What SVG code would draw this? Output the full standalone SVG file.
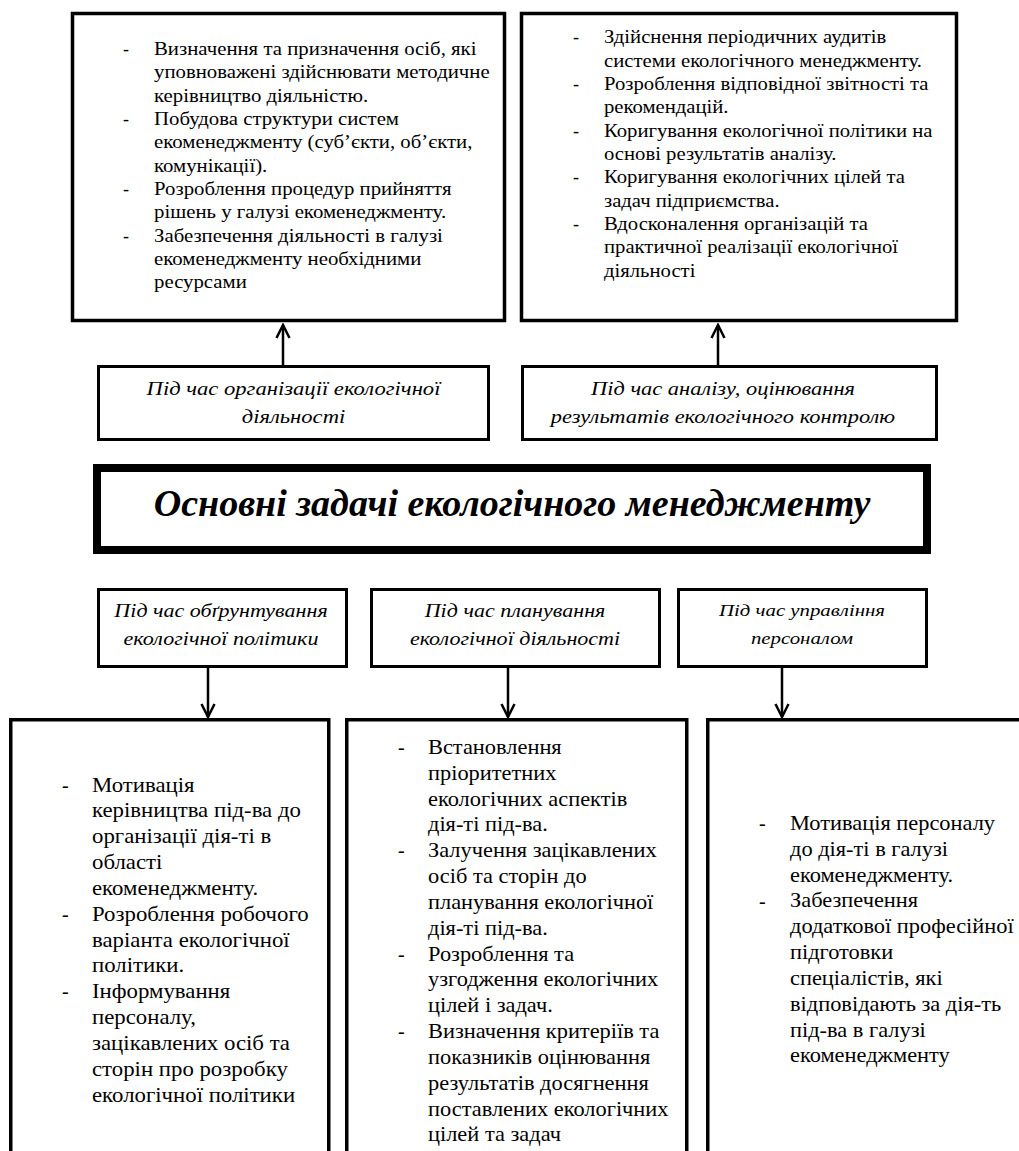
<svg xmlns="http://www.w3.org/2000/svg" width="1019" height="1151" viewBox="0 0 1019 1151">
<style>
.box{fill:#fff;stroke:#000;stroke-width:3.5}
.lbl{fill:#fff;stroke:#000;stroke-width:3}
.title{fill:#fff;stroke:#000;stroke-width:8}
.t{font-family:"Liberation Serif","Times New Roman",serif;font-size:18px;fill:#000}
.b{font-family:"Liberation Serif","Times New Roman",serif;font-size:20px;fill:#000}
.it{font-family:"Liberation Serif","Times New Roman",serif;font-style:italic;font-size:19px;fill:#000;text-anchor:middle}
.h{font-family:"Liberation Serif","Times New Roman",serif;font-style:italic;font-weight:bold;font-size:38px;fill:#000;text-anchor:middle}
.c{stroke:#000;stroke-width:2.5;fill:none}
</style>
<defs>
<marker id="ah" markerUnits="userSpaceOnUse" markerWidth="16" markerHeight="16" viewBox="0 0 16 16" refX="14" refY="8" orient="auto">
<path d="M1,1.5 L14,8 L1,14.5" fill="none" stroke="#000" stroke-width="2.5"/>
</marker>
</defs>

<g id="connectors">
<line class="c" x1="283" y1="365" x2="283" y2="325" marker-end="url(#ah)"/>
<line class="c" x1="718" y1="365" x2="718" y2="325" marker-end="url(#ah)"/>
<line class="c" x1="208" y1="668" x2="208" y2="717" marker-end="url(#ah)"/>
<line class="c" x1="508" y1="668" x2="508" y2="717" marker-end="url(#ah)"/>
<line class="c" x1="782" y1="668" x2="782" y2="717" marker-end="url(#ah)"/>
</g>

<g id="top-left">
<rect class="box" x="72.5" y="13.5" width="432" height="307"/>
<text class="t"><tspan x="123" y="55">-</tspan><tspan x="123" y="125">-</tspan><tspan x="123" y="195">-</tspan><tspan x="123" y="241.7">-</tspan></text>
<text class="t" transform="matrix(1.155 0 0 1 154 0)">
<tspan x="0" y="55">Визначення та призначення осіб, які</tspan>
<tspan x="0" y="78.3">уповноважені здійснювати методичне</tspan>
<tspan x="0" y="101.7">керівництво діяльністю.</tspan>
<tspan x="0" y="125">Побудова структури систем</tspan>
<tspan x="0" y="148.3">екоменеджменту (суб’єкти, об’єкти,</tspan>
<tspan x="0" y="171.7">комунікації).</tspan>
<tspan x="0" y="195">Розроблення процедур прийняття</tspan>
<tspan x="0" y="218.3">рішень у галузі екоменеджменту.</tspan>
<tspan x="0" y="241.7">Забезпечення діяльності в галузі</tspan>
<tspan x="0" y="265">екоменеджменту необхідними</tspan>
<tspan x="0" y="288.3">ресурсами</tspan>
</text>
</g>

<g id="top-right">
<rect class="box" x="521.5" y="13.5" width="435" height="307"/>
<text class="t"><tspan x="573" y="43.3">-</tspan><tspan x="573" y="90">-</tspan><tspan x="573" y="136.7">-</tspan><tspan x="573" y="183.3">-</tspan><tspan x="573" y="230">-</tspan></text>
<text class="t" transform="matrix(1.15 0 0 1 604 0)">
<tspan x="0" y="43.3">Здійснення періодичних аудитів</tspan>
<tspan x="0" y="66.7">системи екологічного менеджменту.</tspan>
<tspan x="0" y="90">Розроблення відповідної звітності та</tspan>
<tspan x="0" y="113.3">рекомендацій.</tspan>
<tspan x="0" y="136.7">Коригування екологічної політики на</tspan>
<tspan x="0" y="160">основі результатів аналізу.</tspan>
<tspan x="0" y="183.3">Коригування екологічних цілей та</tspan>
<tspan x="0" y="206.7">задач підприємства.</tspan>
<tspan x="0" y="230">Вдосконалення організацій та</tspan>
<tspan x="0" y="253.3">практичної реалізації екологічної</tspan>
<tspan x="0" y="276.7">діяльності</tspan>
</text>
</g>

<g id="label-organization">
<rect class="lbl" x="98.5" y="366.5" width="390" height="73"/>
<text class="it" transform="matrix(1.19 0 0 1 293.5 0)"><tspan x="0" y="395">Під час організації екологічної</tspan><tspan x="0" y="423">діяльності</tspan></text>
</g>

<g id="label-analysis">
<rect class="lbl" x="522.5" y="366.5" width="414" height="73"/>
<text class="it" transform="matrix(1.18 0 0 1 723 0)"><tspan x="0" y="395">Під час аналізу, оцінювання</tspan><tspan x="0" y="423">результатів екологічного контролю</tspan></text>
</g>

<g id="title">
<rect class="title" x="97" y="468" width="830" height="82"/>
<text class="h" x="512" y="516">Основні задачі екологічного менеджменту</text>
</g>

<g id="label-policy">
<rect class="lbl" x="98.5" y="589.5" width="248" height="77"/>
<text class="it" transform="matrix(1.16 0 0 1 221 0)"><tspan x="0" y="617">Під час обґрунтування</tspan><tspan x="0" y="645">екологічної політики</tspan></text>
</g>

<g id="label-planning">
<rect class="lbl" x="371.5" y="589.5" width="288" height="77"/>
<text class="it" transform="matrix(1.16 0 0 1 515 0)"><tspan x="0" y="617">Під час планування</tspan><tspan x="0" y="645">екологічної діяльності</tspan></text>
</g>

<g id="label-personnel">
<rect class="lbl" x="678.5" y="589.5" width="248" height="77"/>
<text class="it" style="font-size:17.5px" transform="matrix(1.19 0 0 1 802 0)"><tspan x="0" y="616">Під час управління</tspan><tspan x="0" y="644">персоналом</tspan></text>
</g>

<g id="box-policy">
<rect class="box" x="10.75" y="719.75" width="318" height="450"/>
<text class="b"><tspan x="62" y="791.7">-</tspan><tspan x="62" y="920.8">-</tspan><tspan x="62" y="998.3">-</tspan></text>
<text class="b" transform="matrix(1.14 0 0 1 92 0)">
<tspan x="0" y="791.7">Мотивація</tspan>
<tspan x="0" y="817.5">керівництва під-ва до</tspan>
<tspan x="0" y="843.3">організації дія-ті в</tspan>
<tspan x="0" y="869.2">області</tspan>
<tspan x="0" y="895">екоменеджменту.</tspan>
<tspan x="0" y="920.8">Розроблення робочого</tspan>
<tspan x="0" y="946.7">варіанта екологічної</tspan>
<tspan x="0" y="972.5">політики.</tspan>
<tspan x="0" y="998.3">Інформування</tspan>
<tspan x="0" y="1024.2">персоналу,</tspan>
<tspan x="0" y="1050">зацікавлених осіб та</tspan>
<tspan x="0" y="1075.8">сторін про розробку</tspan>
<tspan x="0" y="1101.7">екологічної політики</tspan>
</text>
</g>

<g id="box-planning">
<rect class="box" x="346.75" y="719.75" width="340" height="450"/>
<text class="b"><tspan x="398" y="754">-</tspan><tspan x="398" y="857.3">-</tspan><tspan x="398" y="960.7">-</tspan><tspan x="398" y="1038.2">-</tspan></text>
<text class="b" transform="matrix(1.12 0 0 1 428 0)">
<tspan x="0" y="754">Встановлення</tspan>
<tspan x="0" y="779.8">пріоритетних</tspan>
<tspan x="0" y="805.7">екологічних аспектів</tspan>
<tspan x="0" y="831.5">дія-ті під-ва.</tspan>
<tspan x="0" y="857.3">Залучення зацікавлених</tspan>
<tspan x="0" y="883.2">осіб та сторін до</tspan>
<tspan x="0" y="909">планування екологічної</tspan>
<tspan x="0" y="934.8">дія-ті під-ва.</tspan>
<tspan x="0" y="960.7">Розроблення та</tspan>
<tspan x="0" y="986.5">узгодження екологічних</tspan>
<tspan x="0" y="1012.3">цілей і задач.</tspan>
<tspan x="0" y="1038.2">Визначення критеріїв та</tspan>
<tspan x="0" y="1064">показників оцінювання</tspan>
<tspan x="0" y="1089.8">результатів досягнення</tspan>
<tspan x="0" y="1115.7">поставлених екологічних</tspan>
<tspan x="0" y="1141.5">цілей та задач</tspan>
</text>
</g>

<g id="box-personnel">
<rect class="box" x="707.75" y="719.75" width="330" height="450"/>
<text class="b"><tspan x="759" y="830">-</tspan><tspan x="759" y="907.5">-</tspan></text>
<text class="b" transform="matrix(1.12 0 0 1 790 0)">
<tspan x="0" y="830">Мотивація персоналу</tspan>
<tspan x="0" y="855.8">до дія-ті в галузі</tspan>
<tspan x="0" y="881.7">екоменеджменту.</tspan>
<tspan x="0" y="907.5">Забезпечення</tspan>
<tspan x="0" y="933.3">додаткової професійної</tspan>
<tspan x="0" y="959.2">підготовки</tspan>
<tspan x="0" y="985">спеціалістів, які</tspan>
<tspan x="0" y="1010.8">відповідають за дія-ть</tspan>
<tspan x="0" y="1036.7">під-ва в галузі</tspan>
<tspan x="0" y="1062.5">екоменеджменту</tspan>
</text>
</g>
</svg>
